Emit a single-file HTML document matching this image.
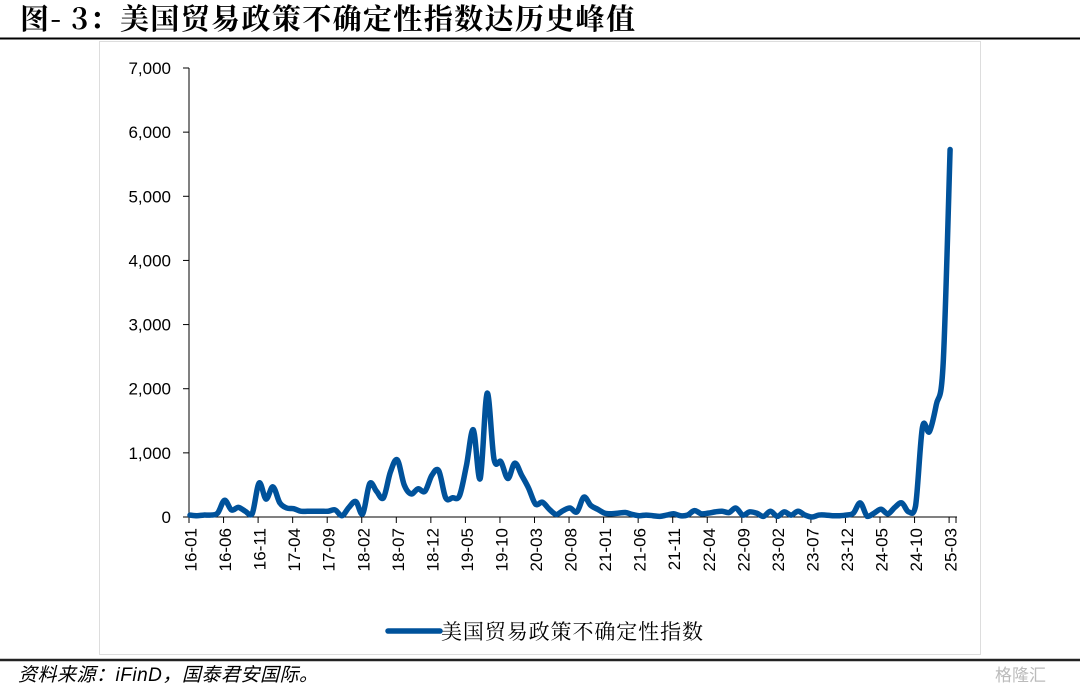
<!DOCTYPE html>
<html><head><meta charset="utf-8"><style>
body{margin:0;background:#fff;width:1080px;height:687px;overflow:hidden;font-family:"Liberation Sans","Noto Sans CJK SC",sans-serif}
</style></head><body>
<svg width="1080" height="687" xmlns="http://www.w3.org/2000/svg">
<text x="20" y="29" font-size="29" font-weight="bold" font-family="'Noto Serif CJK SC','Liberation Serif',serif" fill="#000" textLength="615">图- 3：美国贸易政策不确定性指数达历史峰值</text>
<line x1="0" y1="38.5" x2="1080" y2="38.5" stroke="#000" stroke-width="2"/>
<rect x="99.5" y="41.5" width="881" height="613" fill="#fff" stroke="#ddd"/>
<g id="axes"></g>
<path id="series" fill="none" stroke="#00529b" stroke-width="5.5" stroke-linejoin="round" stroke-linecap="round"/>
<line x1="388" y1="631" x2="440" y2="631" stroke="#00529b" stroke-width="5.5" stroke-linecap="round"/>
<text x="441" y="639" font-size="21" font-family="'Noto Serif CJK SC',serif" textLength="262">美国贸易政策不确定性指数</text>
<line x1="0" y1="660" x2="1080" y2="660" stroke="#222" stroke-width="2.5"/>
<text x="18" y="681" font-size="19" font-style="italic" font-family="'Liberation Sans','Noto Sans CJK SC',sans-serif" textLength="300">资料来源：iFinD，国泰君安国际。</text>
<text x="995" y="681" font-size="17" fill="#bbb">格隆汇</text>
</svg>
<script>
const values=[30,20,30,30,60,260,110,150,90,50,530,280,470,220,140,130,90,90,90,90,90,110,20,150,240,50,520,400,300,700,890,500,360,440,400,650,720,300,300,330,800,1360,600,1930,900,860,600,840,650,450,200,230,120,40,100,140,80,310,180,120,60,50,60,70,40,20,30,20,10,30,50,20,30,100,50,60,80,90,70,140,30,80,60,10,90,10,80,30,90,30,0,30,30,20,20,30,60,220,10,60,120,50,150,220,80,170,1400,1330,1750,2400,5730];
const yTicks=[0,1000,2000,3000,4000,5000,6000,7000];
const xTickLabels=["16-01","16-06","16-11","17-04","17-09","18-02","18-07","18-12","19-05","19-10","20-03","20-08","21-01","21-06","21-11","22-04","22-09","23-02","23-07","23-12","24-05","24-10","25-03"];
const NS="http://www.w3.org/2000/svg";
const x0=189,dx=6.91,y0=517,yTop=68,yMax=7000;
function X(i){return x0+i*dx}
function Y(v){return y0-(v/yMax)*(y0-yTop)}
const g=document.getElementById('axes');
function mk(t,a){const e=document.createElementNS(NS,t);for(const k in a)e.setAttribute(k,a[k]);g.appendChild(e);return e}
let ya=mk('line',{x1:x0,y1:yTop,x2:x0,y2:y0,stroke:'#000'});


let xa=mk('line',{x1:x0,y1:y0,x2:X(111)+1,y2:y0,stroke:'#000'});


yTicks.forEach(v=>{
 const t=mk('line',{x1:183,y1:Y(v),x2:x0,y2:Y(v),stroke:'#000'});
 
 
 const l=mk('text',{x:171,y:Y(v)+6,'font-size':17,'text-anchor':'end'});
 l.textContent=v.toLocaleString('en-US');
 
 
});
xTickLabels.forEach((s,k)=>{
 const x=X(k*5)+1.5;
 const t=mk('line',{x1:x-1.5,y1:y0,x2:x-1.5,y2:y0+6,stroke:'#000'});
 
 
 const l=mk('text',{x:0,y:0,'font-size':17,'text-anchor':'end',transform:`translate(${x+6},${y0+11}) rotate(-90)`});
 l.textContent=s;
 
 
});
const lt=mk('line',{x1:X(111),y1:y0,x2:X(111),y2:y0+6,stroke:'#000'});


const pts=values.map((v,i)=>[X(i)+1,Y(v)]);
let d=`M${pts[0][0]},${pts[0][1]}`;
for(let i=0;i<pts.length-1;i++){
 const p0=pts[Math.max(0,i-1)],p1=pts[i],p2=pts[i+1],p3=pts[Math.min(pts.length-1,i+2)];
 const c1=[p1[0]+(p2[0]-p0[0])/6,Math.min(y0,p1[1]+(p2[1]-p0[1])/6)];
 const c2=[p2[0]-(p3[0]-p1[0])/6,Math.min(y0,p2[1]-(p3[1]-p1[1])/6)];
 d+=` C${c1[0]},${c1[1]} ${c2[0]},${c2[1]} ${p2[0]},${p2[1]}`;
}
document.getElementById('series').setAttribute('d',d);
</script>
</body></html>
